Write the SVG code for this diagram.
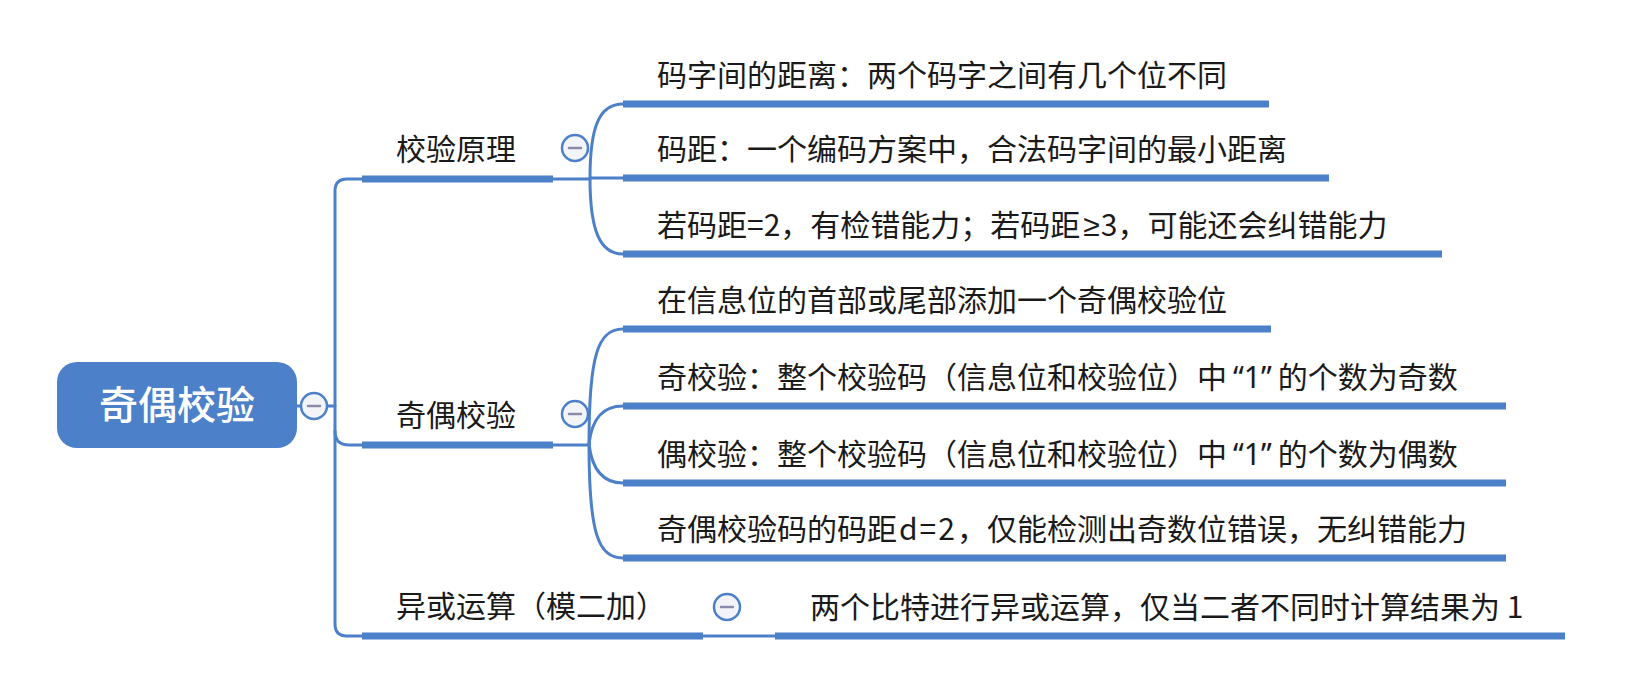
<svg xmlns="http://www.w3.org/2000/svg" width="1627" height="685" viewBox="0 0 1627 685">
<style>
.bg{fill:#ffffff}
.root{fill:#4c80c9}
.rt{font-family:"Noto Sans CJK SC","Noto Sans",sans-serif;font-size:39px;fill:#ffffff;font-weight:500}
.t{font-family:"Noto Sans CJK SC","Noto Sans",sans-serif;font-size:30px;fill:#1a1a1a}
.lat{font-family:"Noto Sans",sans-serif}
.bar{fill:#4c80c9}
.ln{fill:none;stroke:#4c80c9;stroke-width:3;stroke-linecap:round}
.cc{fill:#f3f4f8;stroke:#4c80c9;stroke-width:2.5}
.mi{stroke:#8a8aab;stroke-width:2.5;stroke-linecap:round}
</style>
<rect class="bg" x="0" y="0" width="1627" height="685"/>
<g id="connectors">
<path class="ln" d="M297,406 H301"/>
<path class="ln" d="M327,406 H335"/>
<path class="ln" d="M362,179 H347 Q335,179 335,191 V624 Q335,636 347,636 H362"/>
<path class="ln" d="M335,431 Q335,445 349,445 H362"/>
<path class="ln" d="M553,179 H590"/>
<path class="ln" d="M553,445 H589"/>
<path class="ln" d="M703,636 H775"/>
<path class="ln" d="M590,178 C590,125 600,104 623,104"/>
<path class="ln" d="M590,178 H623"/>
<path class="ln" d="M590,178 C590,231 600,254 623,254"/>
<path class="ln" d="M589,444 C589,355 598,329 623,329"/>
<path class="ln" d="M589,444 C592,418 603,406 623,406"/>
<path class="ln" d="M589,444 C592,470 603,483 623,483"/>
<path class="ln" d="M589,444 C589,533 598,558 623,558"/>
</g>
<g id="root">
<rect class="root" x="57" y="362" width="240" height="86" rx="20"/>
<text class="rt" x="177" y="419" text-anchor="middle">奇偶校验</text>
<circle class="cc" cx="314" cy="406" r="13"/>
<line class="mi" x1="308" y1="406" x2="320" y2="406"/>
</g>
<g id="n-jiaoyanyuanli">
<rect class="bar" x="362" y="175.5" width="191" height="7"/>
<text class="t" x="396" y="160">校验原理</text>
<circle class="cc" cx="575" cy="148" r="13"/>
<line class="mi" x1="569" y1="148" x2="581" y2="148"/>
</g>
<g id="n-jiouxiaoyan">
<rect class="bar" x="362" y="441.5" width="191" height="7"/>
<text class="t" x="396" y="426">奇偶校验</text>
<circle class="cc" cx="575" cy="414" r="13"/>
<line class="mi" x1="569" y1="414" x2="581" y2="414"/>
</g>
<g id="n-yihuo">
<rect class="bar" x="362" y="632.5" width="341" height="7"/>
<text class="t" x="396" y="617">异或运算（模二加）</text>
<circle class="cc" cx="727" cy="607" r="13"/>
<line class="mi" x1="721" y1="607" x2="733" y2="607"/>
</g>
<g id="n-g1a">
<rect class="bar" x="623" y="100.5" width="646" height="7"/>
<text class="t" x="657" y="86">码字间的距离：两个码字之间有几个位不同</text>
</g>
<g id="n-g1b">
<rect class="bar" x="623" y="174.5" width="706" height="7"/>
<text class="t" x="657" y="160">码距：一个编码方案中，合法码字间的最小距离</text>
</g>
<g id="n-g1c">
<rect class="bar" x="623" y="250.5" width="819" height="7"/>
<text class="t" x="657" y="236">若码距=2，有检错能力；若码距<tspan class="lat" dx="3">≥</tspan><tspan dx="1">3，可能还会纠错能力</tspan></text>
</g>
<g id="n-g2a">
<rect class="bar" x="623" y="325.5" width="648" height="7"/>
<text class="t" x="657" y="311">在信息位的首部或尾部添加一个奇偶校验位</text>
</g>
<g id="n-g2b">
<rect class="bar" x="623" y="402.5" width="883" height="7"/>
<text class="t" x="657" y="388">奇校验：整个校验码（信息位和校验位）中<tspan class="lat" dx="6">“1”</tspan><tspan dx="6">的个数为奇数</tspan></text>
</g>
<g id="n-g2c">
<rect class="bar" x="623" y="479.5" width="883" height="7"/>
<text class="t" x="657" y="465">偶校验：整个校验码（信息位和校验位）中<tspan class="lat" dx="6">“1”</tspan><tspan dx="6">的个数为偶数</tspan></text>
</g>
<g id="n-g2d">
<rect class="bar" x="623" y="554.5" width="883" height="7"/>
<text class="t" x="657" y="540">奇偶校验码的码距<tspan dx="2">d</tspan><tspan dx="2">=</tspan><tspan dx="2">2</tspan><tspan dx="2">，仅能检测出奇数位错误，无纠错能力</tspan></text>
</g>
<g id="n-g3a">
<rect class="bar" x="775" y="632.5" width="790" height="7"/>
<text class="t" x="810" y="618">两个比特进行异或运算，仅当二者不同时计算结果为 1</text>
</g>
</svg>
